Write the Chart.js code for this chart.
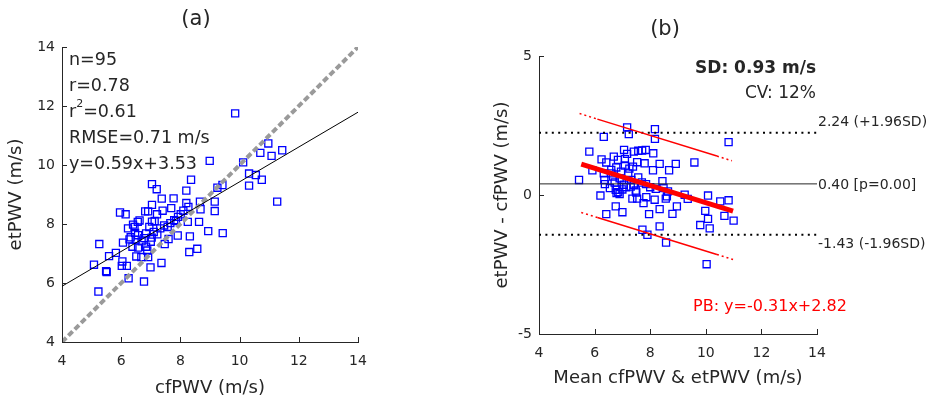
<!DOCTYPE html>
<html>
<head>
<meta charset="utf-8">
<script src="https://cdn.jsdelivr.net/npm/chart.js@4.4.1/dist/chart.umd.min.js"></script>
<style>
html, body { margin: 0; padding: 0; background: #fff; }
#wrap { position: relative; width: 936px; height: 401px; overflow: hidden; }
canvas { position: absolute; top: 0; }
#ca { left: 0; }
#cb { left: 470px; }
</style>
</head>
<body>
<div id="wrap">
	<canvas id="ca" width="470" height="401"></canvas>
	<canvas id="cb" width="466" height="401"></canvas>
</div>
<script>
// (a) cfPWV vs etPWV, m/s
var cfA = [9.85, 10.97, 11.44, 10.70, 11.08, 10.12, 8.99, 10.32, 10.55, 10.75, 10.32, 11.27,
	8.36, 7.04, 7.20, 8.20, 9.25, 9.42, 7.37, 7.77, 7.04, 8.20, 8.66, 9.16, 8.27, 7.69, 7.40,
	6.81, 6.91, 7.21, 5.96, 6.15, 8.68, 9.16, 8.01, 7.92, 7.79, 7.04, 6.56, 7.66, 8.25, 8.63,
	6.23, 6.45, 6.95, 7.32, 7.10, 6.47, 8.94, 9.43, 7.91, 8.32, 6.57, 6.84, 7.03, 6.28, 6.06,
	5.26, 6.49, 6.69, 7.47, 7.60, 6.38, 6.57, 6.84, 6.88, 8.30, 8.57, 5.82, 5.59, 6.51, 6.68,
	6.91, 6.04, 5.08, 6.02, 6.19, 7.36, 6.99, 5.49, 5.51, 6.25, 6.77, 5.23,
	6.40, 7.13, 7.57, 7.00, 6.32, 7.22, 6.78, 8.10, 7.85, 6.62, 7.45]
var etA = [11.75, 10.73, 10.50, 10.41, 10.31, 10.09, 10.14, 9.71, 9.66, 9.50, 9.30, 8.76,
	9.50, 9.35, 9.18, 9.13, 9.23, 9.32, 8.86, 8.87, 8.65, 8.71, 8.76, 8.76, 8.58, 8.54, 8.45,
	8.43, 8.43, 8.33, 8.39, 8.33, 8.50, 8.44, 8.33, 8.24, 8.13, 8.08, 8.07, 8.03, 8.07, 8.07,
	7.85, 7.90, 7.90, 7.85, 7.73, 7.70, 7.76, 7.69, 7.61, 7.58, 7.62, 7.68, 7.54, 7.48, 7.37,
	7.32, 7.47, 7.41, 7.32, 7.49, 7.23, 7.20, 7.23, 7.10, 7.05, 7.16, 7.02, 6.91, 6.90, 6.88,
	6.88, 6.73, 6.62, 6.58, 6.58, 6.68, 6.53, 6.40, 6.37, 6.16, 6.05, 5.71,
	7.98, 8.10, 7.90, 7.40, 7.55, 7.65, 7.52, 8.45, 8.10, 8.12, 7.95]
var fitA_x = [4, 14]
var fitA_y = [5.89, 11.79]
var identA = [4, 14]
var statsA = ['n=95', 'r=0.78', '0.61', 'RMSE=0.71 m/s', 'y=0.59x+3.53']

// (b) Bland-Altman: mean vs difference, m/s
var meanB = [7.17, 8.17, 7.23, 6.33, 8.17, 10.82, 5.81, 7.06, 7.41, 7.57, 7.71, 7.84, 8.11,
	6.69, 7.17, 6.25, 6.42, 6.84, 7.09, 7.53, 7.80, 8.34, 8.92, 9.59, 7.38, 6.78, 7.09, 5.92,
	8.10, 8.68, 5.44, 6.33, 6.60, 6.95, 7.21, 6.35, 6.66, 6.98, 7.32, 7.57, 6.37, 6.72, 7.05,
	7.41, 7.85, 8.44, 6.76, 7.14, 7.48, 8.00, 8.20, 8.48, 6.79, 6.21, 6.90, 7.50, 7.86, 8.64,
	9.24, 10.08, 7.36, 7.53, 8.16, 8.56, 8.60, 9.35, 10.52, 10.82, 7.76, 8.96, 6.76, 7.00,
	6.42, 7.96, 8.34, 8.80, 9.98, 10.08, 10.67, 11.00, 9.80, 10.14, 8.34, 7.72, 7.90, 8.57,
	10.03, 6.55, 6.90, 7.25, 6.85, 7.00, 7.30, 7.70, 6.60]
var diffB = [2.43, 2.37, 2.19, 2.09, 2.02, 1.90, 1.56, 1.62, 1.56, 1.59, 1.60, 1.62, 1.50,
	1.38, 1.48, 1.28, 1.17, 1.26, 1.29, 1.18, 1.14, 1.12, 1.12, 1.17, 1.02, 0.99, 1.06, 0.89,
	0.89, 0.89, 0.54, 0.78, 0.78, 0.84, 0.78, 0.54, 0.66, 0.54, 0.54, 0.63, 0.39, 0.45, 0.37,
	0.37, 0.39, 0.50, 0.19, 0.28, 0.16, 0.28, 0.22, 0.25, 0.07, -0.02, 0.03, 0.09, -0.08, 0.13,
	0.01, -0.02, -0.13, -0.13, -0.17, -0.13, -0.05, -0.14, -0.23, -0.19, -0.29, -0.41, -0.41, -0.62,
	-0.69, -0.69, -0.51, -0.68, -0.57, -0.86, -0.75, -0.92, -1.08, -1.20, -1.13, -1.25, -1.43, -1.71,
	-2.49, 0.25, 0.60, 0.95, 0.10, 0.20, 0.30, 0.45, 0.90]
var biasB = 0.40
var loaB = [2.24, -1.43]
var pbB_x = [5.52, 10.98]
var pbB_y = [1.11, -0.58]
var ciUp_x = [5.46, 6.1, 10.4, 10.94]
var ciUp_y = [2.93, 2.73, 1.40, 1.23]
var ciLo_x = [5.52, 6.1, 10.4, 10.98]
var ciLo_y = [-0.63, -0.81, -2.14, -2.32]

var ticksX = [4, 6, 8, 10, 12, 14]

Chart.defaults.font.family = 'DejaVu Sans'
Chart.defaults.color = '#262626'

function pts(xs, ys) {
	return xs.map((x, i) => ({x: x, y: ys[i]}))
}

function txt(ctx, s, x, y, o) {
	o = o || {}
	ctx.save()
	ctx.font = (o.weight || 'normal') + ' ' + (o.size || 17.5) + 'px "DejaVu Sans"'
	ctx.fillStyle = o.color || '#262626'
	ctx.textAlign = o.align || 'left'
	ctx.textBaseline = 'middle'
	if (o.rot) {
		ctx.translate(x, y)
		ctx.rotate(o.rot)
		ctx.fillText(s, 0, 0)
	} else {
		ctx.fillText(s, x, y)
	}
	ctx.restore()
}

// matlab-style ticks pointing into the axes
var inTicks = {
	id: 'inTicks',
	afterDraw(chart) {
		var ctx = chart.ctx, a = chart.chartArea
		var sx = chart.scales.x, sy = chart.scales.y
		ctx.save()
		ctx.strokeStyle = '#262626'
		ctx.lineWidth = 1
		ctx.beginPath()
		sx.ticks.forEach(t => {
			var px = Math.round(sx.getPixelForValue(t.value)) + 0.5
			ctx.moveTo(px, a.bottom)
			ctx.lineTo(px, a.bottom - 5)
		})
		sy.ticks.forEach(t => {
			var py = Math.round(sy.getPixelForValue(t.value)) + 0.5
			ctx.moveTo(a.left, py)
			ctx.lineTo(a.left + 5, py)
		})
		ctx.stroke()
		ctx.restore()
	}
}

function axes(ymin, ymax, ystep, xh, yw) {
	return {
		x: {
			type: 'linear', min: 4, max: 14,
			afterBuildTicks: s => { s.ticks = ticksX.map(v => ({value: v})) },
			ticks: {padding: 11, font: {size: 14}, color: '#262626'},
			grid: {display: false, drawTicks: false},
			border: {display: true, color: '#262626', width: 1},
			afterFit: s => { s.height = xh }
		},
		y: {
			type: 'linear', min: ymin, max: ymax,
			ticks: {stepSize: ystep, padding: 7, font: {size: 14}, color: '#262626'},
			grid: {display: false, drawTicks: false},
			border: {display: true, color: '#262626', width: 1},
			afterFit: s => { s.width = yw }
		}
	}
}

var textA = {
	id: 'textA',
	afterDraw(chart) {
		var ctx = chart.ctx, a = chart.chartArea
		var cx = (a.left + a.right) / 2
		txt(ctx, '(a)', cx - 14, 20, {size: 21, align: 'center'})
		txt(ctx, 'cfPWV (m/s)', cx, 388, {size: 18, align: 'center'})
		txt(ctx, 'etPWV (m/s)', 16, (a.top + a.bottom) / 2, {size: 18, align: 'center', rot: -Math.PI / 2})
		var x0 = a.left + 7, y0 = a.top + 13, dy = 26.2
		txt(ctx, statsA[0], x0, y0)
		txt(ctx, statsA[1], x0, y0 + dy)
		// r squared with superscript
		ctx.save()
		ctx.font = '17.5px "DejaVu Sans"'
		var w = ctx.measureText('r').width
		ctx.restore()
		txt(ctx, 'r', x0, y0 + 2 * dy)
		txt(ctx, '2', x0 + w, y0 + 2 * dy - 8, {size: 11})
		txt(ctx, '=' + statsA[2], x0 + w + 7, y0 + 2 * dy)
		txt(ctx, statsA[3], x0, y0 + 3 * dy)
		txt(ctx, statsA[4], x0, y0 + 4 * dy)
	}
}

var textB = {
	id: 'textB',
	afterDraw(chart) {
		var ctx = chart.ctx, a = chart.chartArea, sy = chart.scales.y
		var cx = (a.left + a.right) / 2
		txt(ctx, '(b)', cx - 13, 30, {size: 21, align: 'center'})
		txt(ctx, 'Mean cfPWV & etPWV (m/s)', cx, 378, {size: 18, align: 'center'})
		txt(ctx, 'etPWV - cfPWV (m/s)', 32, (a.top + a.bottom) / 2, {size: 18, align: 'center', rot: -Math.PI / 2})
		txt(ctx, 'SD: 0.93 m/s', a.right - 1, 69, {weight: 'bold', align: 'right', size: 17})
		txt(ctx, 'CV: 12%', a.right - 1, 94, {align: 'right', size: 17})
		txt(ctx, 'PB: y=-0.31x+2.82', 223, 307, {size: 16, color: '#ff0000'})
		txt(ctx, loaB[0].toFixed(2) + ' (+1.96SD)', a.right + 1, sy.getPixelForValue(loaB[0]) - 10, {size: 14})
		txt(ctx, biasB.toFixed(2) + ' [p=0.00]', a.right + 1, sy.getPixelForValue(biasB) + 1, {size: 14})
		txt(ctx, loaB[1].toFixed(2) + ' (-1.96SD)', a.right + 1, sy.getPixelForValue(loaB[1]) + 10, {size: 14})
	}
}

var lineDs = function(data, color, width, dash) {
	return {
		data: data, showLine: true, pointRadius: 0, borderColor: color,
		borderWidth: width, borderDash: dash || [], borderCapStyle: 'butt', fill: false
	}
}

var boxDs = function(data) {
	return {
		data: data, pointStyle: 'rect', pointRadius: 5, pointBorderWidth: 1.3,
		borderColor: '#0000ff', backgroundColor: 'rgba(0,0,0,0)', showLine: false
	}
}

new Chart(document.getElementById('ca'), {
	type: 'scatter',
	data: {
		datasets: [
			lineDs(pts(fitA_x, fitA_y), '#000000', 1),
			lineDs(pts(identA, identA), '#9a9a9a', 4, [6, 3]),
			boxDs(pts(cfA, etA))
		]
	},
	options: {
		responsive: false, animation: false,
		layout: {padding: {left: 0, top: 47, right: 112, bottom: 0}},
		plugins: {legend: {display: false}, tooltip: {enabled: false}},
		scales: axes(4, 14, 2, 59, 62)
	},
	plugins: [inTicks, textA]
})

var dotted = function(v) {
	return lineDs([{x: 4, y: v}, {x: 14, y: v}], '#000000', 2, [2, 4.4])
}

var ciDs = function(xs, ys) {
	var d = lineDs(pts(xs, ys), '#ff0000', 1.5)
	d.segment = {borderDash: c => (c.p0DataIndex === 0 || c.p1DataIndex === xs.length - 1) ? [2, 3] : undefined}
	return d
}

new Chart(document.getElementById('cb'), {
	type: 'scatter',
	data: {
		datasets: [
			lineDs(pts(pbB_x, pbB_y), '#ff0000', 5),
			ciDs(ciUp_x, ciUp_y),
			ciDs(ciLo_x, ciLo_y),
			lineDs([{x: 4, y: biasB}, {x: 14, y: biasB}], '#262626', 1),
			dotted(loaB[0]),
			dotted(loaB[1]),
			boxDs(pts(meanB, diffB))
		]
	},
	options: {
		responsive: false, animation: false,
		layout: {padding: {left: 0, top: 56, right: 119, bottom: 0}},
		plugins: {legend: {display: false}, tooltip: {enabled: false}},
		scales: axes(-5, 5, 5, 67, 69)
	},
	plugins: [inTicks, textB]
})
</script>
</body>
</html>
